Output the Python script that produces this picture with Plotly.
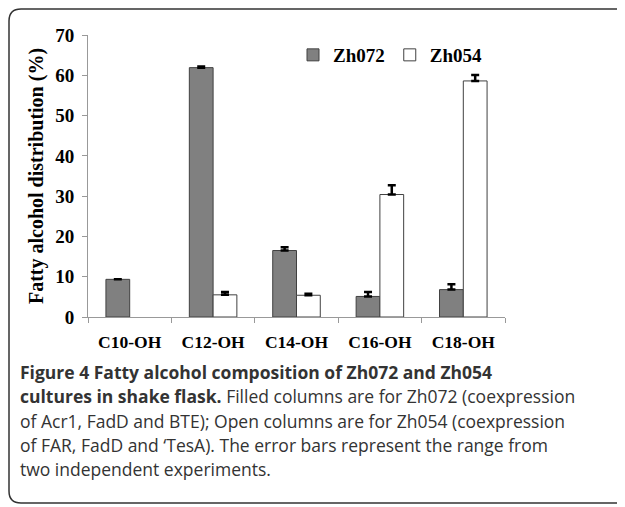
import plotly.graph_objects as go

categories = ["C10-OH", "C12-OH", "C14-OH", "C16-OH", "C18-OH"]
zh072 = [9.35, 61.9, 16.5, 5.1, 6.8]
zh072_err = [None, 0.3, 0.8, 1.1, 1.3]
zh054 = [None, 5.5, 5.4, 30.4, 58.6]
zh054_err = [None, 0.7, 0.4, 2.3, 1.5]
y_ticks = [0, 10, 20, 30, 40, 50, 60, 70]
caption_lines = [
    "<b>Figure 4 Fatty alcohol composition of Zh072 and Zh054</b>",
    "<b>cultures in shake flask.</b> Filled columns are for Zh072 (coexpression",
    "of Acr1, FadD and BTE); Open columns are for Zh054 (coexpression",
    "of FAR, FadD and ‘TesA). The error bars represent the range from",
    "two independent experiments.",
]

W, H = 625, 507
L, R, T, B = 80, 128, 27, 198
PW, PH = W - L - R, H - T - B

def px(x):
    return (x - L) / PW

def py(y):
    return (H - B - y) / PH

serif = "Liberation Serif"

fig = go.Figure()
fig.add_trace(go.Bar(
    x=categories, y=zh072, name="Zh072",
    marker=dict(color="#808080", line=dict(color="#404040", width=1)),
    error_y=dict(type="data", array=zh072_err, arrayminus=[0]*5, symmetric=False,
                 color="black", thickness=2.5, width=4),
))
fig.add_trace(go.Bar(
    x=categories, y=zh054, name="Zh054",
    marker=dict(color="white", line=dict(color="#404040", width=1)),
    error_y=dict(type="data", array=zh054_err, arrayminus=[0]*5, symmetric=False,
                 color="black", thickness=2.5, width=4),
))

# rounded frame (left, top, bottom visible; right runs off the image)
x0, x1, y0, y1, r = 1, 640, 1, 495, 12
path = (f"M {px(x1)},{py(y0)} L {px(x0 + r)},{py(y0)} "
        f"Q {px(x0)},{py(y0)} {px(x0)},{py(y0 + r)} "
        f"L {px(x0)},{py(y1 - r)} "
        f"Q {px(x0)},{py(y1)} {px(x0 + r)},{py(y1)} "
        f"L {px(x1)},{py(y1)}")
fig.add_shape(type="path", path=path, xref="paper", yref="paper",
              line=dict(color="#333333", width=1.5))

for i, line in enumerate(caption_lines):
    fig.add_annotation(text=line, xref="paper", yref="paper", x=px(10), y=py(364 + 24.3 * i),
                       xanchor="left", yanchor="middle", align="left", showarrow=False,
                       font=dict(family="Open Sans", size=17.5, color="#333333"))

fig.update_layout(
    width=W, height=H,
    margin=dict(l=L, r=R, t=T, b=B),
    paper_bgcolor="white", plot_bgcolor="white",
    barmode="group", bargap=0.43, bargroupgap=0,
    showlegend=True,
    legend=dict(orientation="h", x=px(382), y=py(47), xanchor="center", yanchor="middle",
                font=dict(family=serif, size=19, color="black", weight="bold"),
                bgcolor="rgba(0,0,0,0)"),
    font=dict(family=serif, color="black"),
)
fig.update_xaxes(
    type="category", showline=True, linecolor="#999999", linewidth=1,
    ticks="outside", tickson="boundaries", ticklen=5, tickcolor="#999999",
    tickfont=dict(family=serif, size=17.5, color="black", weight="bold"),
    ticklabelstandoff=9, showgrid=False, zeroline=False,
)
fig.update_yaxes(
    range=[0, 70], tickvals=y_ticks, showline=True, linecolor="#999999", linewidth=1,
    ticks="outside", ticklen=5, tickcolor="#999999", showgrid=False, zeroline=False,
    tickfont=dict(family=serif, size=19, color="black", weight="bold"),
    ticklabelstandoff=4,
    title=dict(text="Fatty alcohol distribution (%)", standoff=6,
               font=dict(family=serif, size=20, color="black", weight="bold")),
)

fig.write_html("out.html")
